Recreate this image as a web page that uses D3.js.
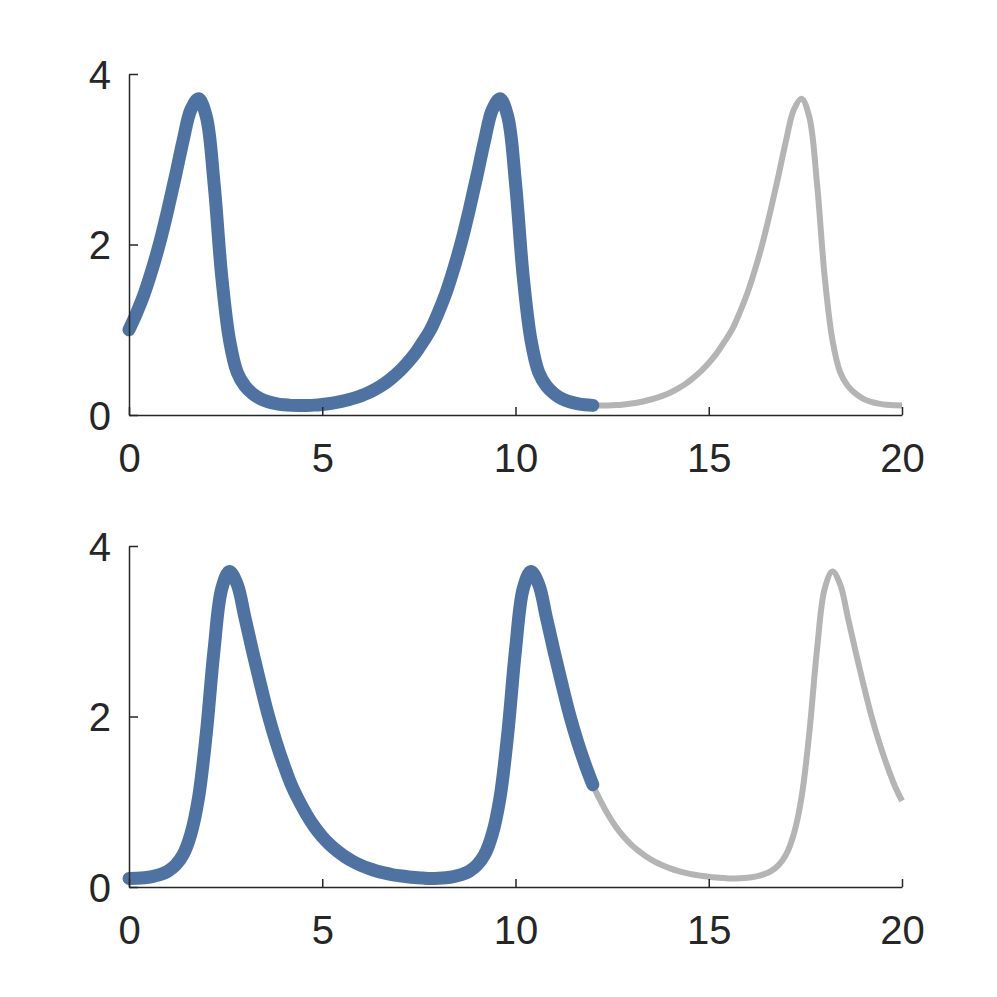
<!DOCTYPE html>
<html>
<head>
<meta charset="utf-8">
<script src="https://cdn.jsdelivr.net/npm/d3@7"></script>
<style>
  html, body { margin: 0; padding: 0; background: #fff; }
  svg { display: block; }
</style>
</head>
<body>
<svg id="chart" width="997" height="997"></svg>
<script>
// ---- data ----
const timeStep = 0.2;
const times = d3.range(0, 101).map(i => +(i * timeStep).toFixed(1));
const highlightEnd = 12;

const prey = [
  1.00, 1.20, 1.43, 1.71, 2.03, 2.40, 2.80, 3.22, 3.58, 3.71,
  3.50, 2.72, 1.62, 0.88, 0.50, 0.34, 0.25, 0.19, 0.155, 0.134,
  0.12, 0.113, 0.111, 0.112, 0.116, 0.124, 0.135, 0.15, 0.17, 0.195,
  0.225, 0.262, 0.31, 0.365, 0.435, 0.515, 0.61, 0.72, 0.855,
  1.00, 1.20, 1.43, 1.71, 2.03, 2.40, 2.80, 3.22, 3.58, 3.71,
  3.50, 2.72, 1.62, 0.88, 0.50, 0.34, 0.25, 0.19, 0.155, 0.134,
  0.12, 0.113, 0.111, 0.112, 0.116, 0.124, 0.135, 0.15, 0.17, 0.195,
  0.225, 0.262, 0.31, 0.365, 0.435, 0.515, 0.61, 0.72, 0.855,
  1.00, 1.20, 1.43, 1.71, 2.03, 2.40, 2.80, 3.22, 3.58, 3.71,
  3.50, 2.72, 1.62, 0.88, 0.50, 0.34, 0.25, 0.19, 0.155, 0.134,
  0.12, 0.113, 0.111
];

const predator = [
  0.100, 0.102, 0.1085, 0.122, 0.145, 0.184, 0.254, 0.379, 0.62, 1.05,
  1.80, 2.78, 3.50, 3.70, 3.55, 3.16, 2.76, 2.38, 2.02, 1.71,
  1.44, 1.20, 1.01, 0.845, 0.705, 0.59, 0.495, 0.417, 0.352, 0.298,
  0.254, 0.218, 0.188, 0.165, 0.146, 0.132, 0.12, 0.111, 0.105,
  0.100, 0.102, 0.1085, 0.122, 0.145, 0.184, 0.254, 0.379, 0.62, 1.05,
  1.80, 2.78, 3.50, 3.70, 3.55, 3.16, 2.76, 2.38, 2.02, 1.71,
  1.44, 1.20, 1.01, 0.845, 0.705, 0.59, 0.495, 0.417, 0.352, 0.298,
  0.254, 0.218, 0.188, 0.165, 0.146, 0.132, 0.12, 0.111, 0.105,
  0.100, 0.102, 0.1085, 0.122, 0.145, 0.184, 0.254, 0.379, 0.62, 1.05,
  1.80, 2.78, 3.50, 3.70, 3.55, 3.16, 2.76, 2.38, 2.02, 1.71,
  1.44, 1.20, 1.01
];

const xTicks = [0, 5, 10, 15, 20];
const yTicks = [0, 2, 4];

// ---- styling / layout ----
const axisColor = "#262626";
const blue = "#4e73a2";
const gray = "#b4b4b4";
const fontFamily = "'Liberation Sans', Arial, Helvetica, sans-serif";
const fontSize = 40;

const svg = d3.select("#chart");
svg.append("rect").attr("width", 997).attr("height", 997).attr("fill", "#fff");

const left = 129, right = 902;
const panels = [
  { series: prey, top: 74, bottom: 415 },
  { series: predator, top: 546, bottom: 887 }
];

const x = d3.scaleLinear().domain([0, 20]).range([left, right]);

panels.forEach(p => {
  const y = d3.scaleLinear().domain([0, 4]).range([p.bottom, p.top]);
  const g = svg.append("g");

  const pts = times.map((t, i) => ({ t, v: p.series[i] }));
  const line = d3.line().x(d => x(d.t)).y(d => y(d.v)).curve(d3.curveCatmullRom.alpha(0.5));

  // full trajectory (gray)
  g.append("path")
    .datum(pts)
    .attr("d", line)
    .attr("fill", "none")
    .attr("stroke", gray)
    .attr("stroke-width", 6)
    .attr("stroke-linejoin", "round");

  // highlighted part (blue)
  g.append("path")
    .datum(pts.filter(d => d.t <= highlightEnd + 1e-9))
    .attr("d", line)
    .attr("fill", "none")
    .attr("stroke", blue)
    .attr("stroke-width", 13)
    .attr("stroke-linejoin", "round")
    .attr("stroke-linecap", "round");

  // axes
  const xAxis = d3.axisBottom(x).tickValues(xTicks).tickFormat(d3.format("d"))
    .tickSizeInner(-8).tickSizeOuter(0).tickPadding(29);
  const yAxis = d3.axisLeft(y).tickValues(yTicks).tickFormat(d3.format("d"))
    .tickSizeInner(-9).tickSizeOuter(0).tickPadding(18);

  const gx = g.append("g").attr("transform", `translate(0,${p.bottom})`).call(xAxis);
  const gy = g.append("g").attr("transform", `translate(${left},0)`).call(yAxis);

  [gx, gy].forEach(ax => {
    ax.select(".domain").attr("stroke", axisColor).attr("stroke-width", 1.5);
    ax.selectAll(".tick line").attr("stroke", axisColor).attr("stroke-width", 1.5);
    ax.selectAll(".tick text")
      .attr("fill", axisColor)
      .style("font-family", fontFamily)
      .style("font-size", fontSize + "px");
  });
  gy.selectAll(".tick text").attr("dy", "0.36em");
});
</script>
</body>
</html>
